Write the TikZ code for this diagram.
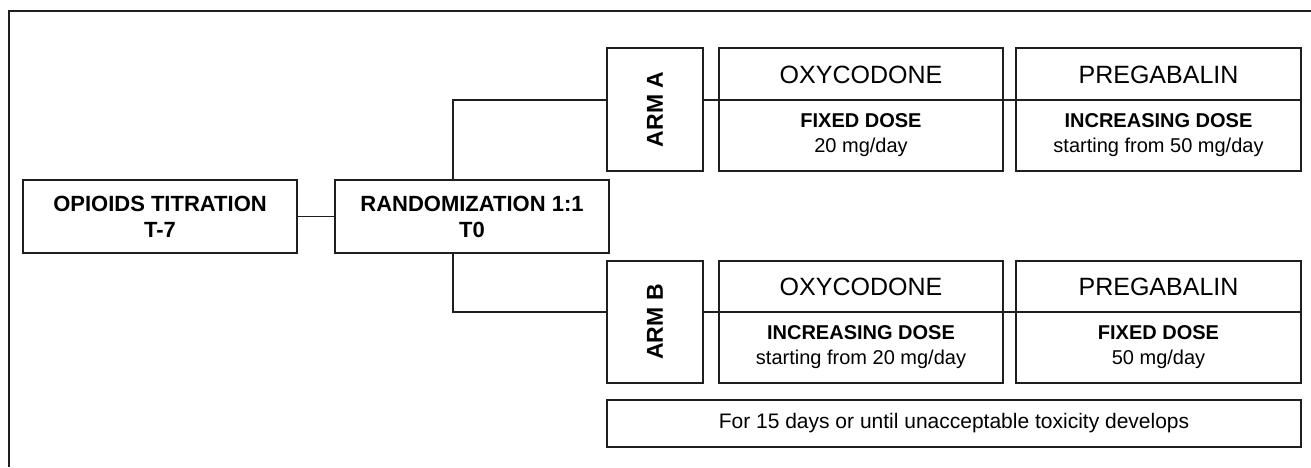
\documentclass[tikz,border=0pt]{standalone}
\usepackage{fontspec}
\setmainfont{Liberation Sans}
\begin{document}
\begin{tikzpicture}[x=1pt,y=-1pt,
  box/.style 2 args={draw=black!88, line width=1.8pt, fill=white, minimum width=#1, minimum height=#2, inner sep=0pt, align=center},
  conn/.style={draw=black!88, line width=1.8pt},
  tb/.style={font=\fontsize{22}{26}\selectfont\bfseries},
  armfont/.style={font=\fontsize{23}{27}\selectfont\bfseries, rotate=90, inner sep=0pt},
  drug/.style={font=\fontsize{25}{29}\selectfont, inner sep=0pt},
  dose/.style={font=\fontsize{20}{25}\selectfont, align=center, inner sep=0pt},
  notefont/.style={font=\fontsize{21}{25}\selectfont}]
\useasboundingbox (0,0) rectangle (1311,467);
% outer frame (top and left edges only visible)
\draw[conn] (9,467) -- (9,11) -- (1311,11);

% main boxes
\node[box={274}{73}, tb] (opi) at (160,216.5) {OPIOIDS TITRATION\\T-7};
\node[box={274}{73}, tb] (rand) at (472,216.5) {RANDOMIZATION 1:1\\T0};
\draw[conn] (opi.east) -- (rand.west);

% branch coordinates
\coordinate (ka) at (453,100);
\coordinate (kb) at (453,312);

% arm A
\node[box={96}{123}] (armA) at (655,109.5) {};
\node[armfont] (armAt) at (armA.center) {ARM A};
\node[box={284}{123}] (oxyA) at (861,109.5) {};
\node[box={285}{123}] (pregA) at (1158.5,109.5) {};
\node[drug] (oxyAt) at (861,75) {OXYCODONE};
\node[drug] (pregAt) at (1158.5,75) {PREGABALIN};
\node[dose] (oxyAd) at (861,135) {\textbf{FIXED DOSE}\\20 mg/day};
\node[dose] (pregAd) at (1158.5,135) {\textbf{INCREASING DOSE}\\starting from 50 mg/day};

% arm B
\node[box={96}{122}] (armB) at (655,322) {};
\node[armfont] (armBt) at (armB.center) {ARM B};
\node[box={284}{122}] (oxyB) at (861,322) {};
\node[box={285}{122}] (pregB) at (1158.5,322) {};
\node[drug] (oxyBt) at (861,287) {OXYCODONE};
\node[drug] (pregBt) at (1158.5,287) {PREGABALIN};
\node[dose] (oxyBd) at (861,347) {\textbf{INCREASING DOSE}\\starting from 20 mg/day};
\node[dose] (pregBd) at (1158.5,347) {\textbf{FIXED DOSE}\\50 mg/day};

% note
\node[box={694}{47}, notefont] (note) at (954,423.5) {For 15 days or until unacceptable toxicity develops};

% connectors
\draw[conn] (rand.north -| ka) -- (ka) -- (armA.west |- ka);
\draw[conn] (rand.south -| kb) -- (kb) -- (armB.west |- kb);
\draw[conn] (armA.east |- ka) -- (pregA.east |- ka);
\draw[conn] (armB.east |- kb) -- (pregB.east |- kb);
\end{tikzpicture}
\end{document}
